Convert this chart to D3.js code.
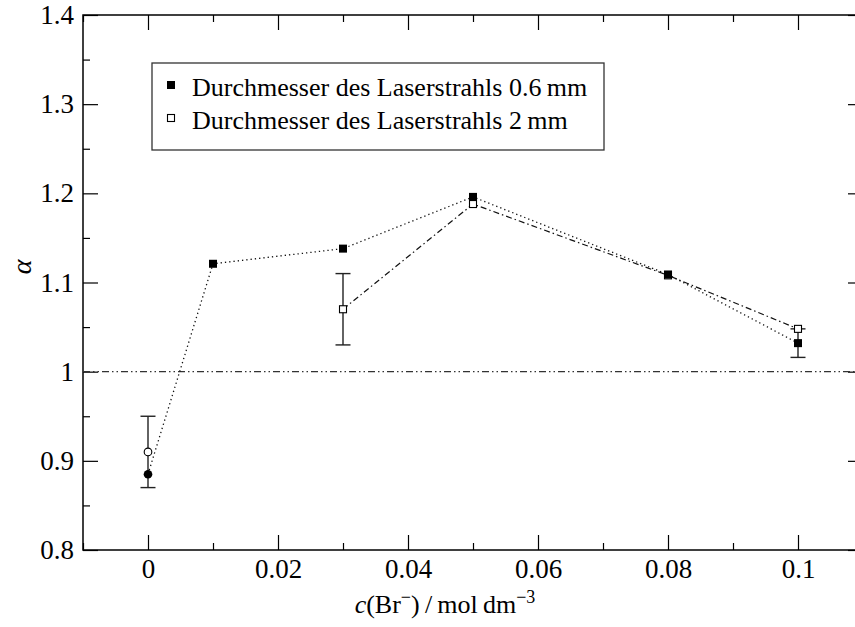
<!DOCTYPE html>
<html>
<head>
<meta charset="utf-8">
<script src="https://cdn.jsdelivr.net/npm/d3@7"></script>
<style>
  html, body { margin: 0; padding: 0; background: #fff; }
  svg { display: block; }
  svg text { font-family: "Liberation Serif", "Times New Roman", Times, Tinos, "Nimbus Roman", "Noto Serif", "DejaVu Serif", serif !important; fill: #000; }
</style>
</head>
<body>
<svg id="chart" width="855" height="627"></svg>
<script>
// Bromide concentration (mol dm^-3) and measured alpha values
const concSmallBeam = [0, 0.01, 0.03, 0.05, 0.08, 0.1];
const alphaSmallBeam = [0.885, 1.121, 1.138, 1.196, 1.109, 1.032];
const markerSmallBeam = ["circle", "square", "square", "square", "square", "square"];

const concLargeBeam = [0.03, 0.05, 0.08, 0.1];
const alphaLargeBeam = [1.07, 1.188, 1.108, 1.048];

// Separate point of the 2 mm beam at zero bromide (not joined to the line)
const concLargeZero = [0];
const alphaLargeZero = [0.91];

// Error bars: x, centre, half-width
const errX = [0, 0.03, 0.1];
const errY = [0.91, 1.07, 1.032];
const errHalf = [0.04, 0.04, 0.016];

const legendLabels = ["Durchmesser des Laserstrahls 0.6\u2009mm", "Durchmesser des Laserstrahls 2\u2009mm"];

const xTickValues = [0, 0.02, 0.04, 0.06, 0.08, 0.1];
const xTickLabels = ["0", "0.02", "0.04", "0.06", "0.08", "0.1"];
const xMinorValues = [-0.01, 0.01, 0.03, 0.05, 0.07, 0.09, 0.11];
const yTickValues = [0.8, 0.9, 1.0, 1.1, 1.2, 1.3, 1.4];
const yTickLabels = ["0.8", "0.9", "1", "1.1", "1.2", "1.3", "1.4"];
const yMinorValues = [0.85, 0.95, 1.05, 1.15, 1.25, 1.35];
const referenceLevel = 1.0;

const serif = "'Liberation Serif', 'Times New Roman', Times, Tinos, 'Nimbus Roman', 'Noto Serif', 'DejaVu Serif', serif";

const svg = d3.select("#chart");
const plotLeft = 83, plotRight = 863, plotTop = 15, plotBottom = 550;

const x = d3.scaleLinear().domain([-0.01, 0.11]).range([plotLeft, plotRight]);
const y = d3.scaleLinear().domain([0.8, 1.4]).range([plotBottom, plotTop]);

// Frame
svg.append("rect")
  .attr("x", plotLeft).attr("y", plotTop)
  .attr("width", plotRight - plotLeft).attr("height", plotBottom - plotTop)
  .attr("fill", "none").attr("stroke", "#000").attr("stroke-width", 1.5);

function styleAxis(g) {
  g.attr("font-family", serif);
  g.select(".domain").remove();
  g.selectAll(".tick line").attr("stroke", "#000").attr("stroke-width", 1.2);
  g.selectAll(".tick text").attr("font-size", 27).style("font-family", serif);
}

// Bottom axis with labels
svg.append("g").attr("transform", `translate(0,${plotBottom})`)
  .call(d3.axisBottom(x).tickValues(xTickValues)
    .tickFormat((d, i) => xTickLabels[i]).tickSize(-15).tickPadding(9))
  .call(styleAxis);
svg.append("g").attr("transform", `translate(0,${plotBottom})`)
  .call(d3.axisBottom(x).tickValues(xMinorValues).tickFormat("").tickSize(-7))
  .call(styleAxis);
// Top mirrored ticks
svg.append("g").attr("transform", `translate(0,${plotTop})`)
  .call(d3.axisTop(x).tickValues(xTickValues).tickFormat("").tickSize(-15))
  .call(styleAxis);
svg.append("g").attr("transform", `translate(0,${plotTop})`)
  .call(d3.axisTop(x).tickValues(xMinorValues).tickFormat("").tickSize(-7))
  .call(styleAxis);

// Left axis with labels
svg.append("g").attr("transform", `translate(${plotLeft},0)`)
  .call(d3.axisLeft(y).tickValues(yTickValues)
    .tickFormat((d, i) => yTickLabels[i]).tickSize(-15).tickPadding(9))
  .call(styleAxis);
svg.append("g").attr("transform", `translate(${plotLeft},0)`)
  .call(d3.axisLeft(y).tickValues(yMinorValues).tickFormat("").tickSize(-7))
  .call(styleAxis);
// Right mirrored ticks
svg.append("g").attr("transform", `translate(${plotRight},0)`)
  .call(d3.axisRight(y).tickValues(yTickValues).tickFormat("").tickSize(-15))
  .call(styleAxis);
svg.append("g").attr("transform", `translate(${plotRight},0)`)
  .call(d3.axisRight(y).tickValues(yMinorValues).tickFormat("").tickSize(-7))
  .call(styleAxis);

// Reference line at alpha = 1
svg.append("line")
  .attr("x1", plotLeft).attr("x2", plotRight)
  .attr("y1", y(referenceLevel)).attr("y2", y(referenceLevel))
  .attr("stroke", "#333").attr("stroke-width", 1.2)
  .attr("stroke-dasharray", "7,3,1.5,3,1.5,3");

const line = d3.line().x(d => x(d[0])).y(d => y(d[1]));

// 2 mm beam: dash-dot line
svg.append("path")
  .datum(concLargeBeam.map((c, i) => [c, alphaLargeBeam[i]]))
  .attr("d", line).attr("fill", "none")
  .attr("stroke", "#111").attr("stroke-width", 1.2)
  .attr("stroke-dasharray", "6,3,1.5,3");

// 0.6 mm beam: dotted line
svg.append("path")
  .datum(concSmallBeam.map((c, i) => [c, alphaSmallBeam[i]]))
  .attr("d", line).attr("fill", "none")
  .attr("stroke", "#111").attr("stroke-width", 1.3)
  .attr("stroke-dasharray", "1.3,3");

// Error bars
const capHalf = 7.5;
const eb = svg.append("g").attr("stroke", "#222").attr("stroke-width", 1.4);
errX.forEach((c, i) => {
  const cx = x(c), y0 = y(errY[i] - errHalf[i]), y1 = y(errY[i] + errHalf[i]);
  eb.append("line").attr("x1", cx).attr("x2", cx).attr("y1", y0).attr("y2", y1);
  eb.append("line").attr("x1", cx - capHalf).attr("x2", cx + capHalf).attr("y1", y0).attr("y2", y0);
  eb.append("line").attr("x1", cx - capHalf).attr("x2", cx + capHalf).attr("y1", y1).attr("y2", y1);
});

// Open markers (2 mm beam)
svg.append("g").selectAll("rect")
  .data(concLargeBeam.map((c, i) => [c, alphaLargeBeam[i]]))
  .join("rect")
  .attr("x", d => x(d[0]) - 3.5).attr("y", d => y(d[1]) - 3.5)
  .attr("width", 7).attr("height", 7)
  .attr("fill", "#fff").attr("stroke", "#000").attr("stroke-width", 1.1);
svg.append("g").selectAll("circle")
  .data(concLargeZero.map((c, i) => [c, alphaLargeZero[i]]))
  .join("circle")
  .attr("cx", d => x(d[0])).attr("cy", d => y(d[1])).attr("r", 3.8)
  .attr("fill", "#fff").attr("stroke", "#000").attr("stroke-width", 1.1);

// Filled markers (0.6 mm beam)
const filled = svg.append("g");
concSmallBeam.forEach((c, i) => {
  if (markerSmallBeam[i] === "circle") {
    filled.append("circle").attr("cx", x(c)).attr("cy", y(alphaSmallBeam[i])).attr("r", 4.3).attr("fill", "#000");
  } else {
    filled.append("rect").attr("x", x(c) - 4).attr("y", y(alphaSmallBeam[i]) - 4)
      .attr("width", 8).attr("height", 8).attr("fill", "#000");
  }
});

// Legend
const lg = svg.append("g").attr("font-family", serif);
lg.append("rect").attr("x", 152).attr("y", 63).attr("width", 452).attr("height", 87)
  .attr("fill", "#fff").attr("stroke", "#333").attr("stroke-width", 1.3);
lg.append("rect").attr("x", 167).attr("y", 81).attr("width", 8).attr("height", 8).attr("fill", "#000");
lg.append("rect").attr("x", 167.5).attr("y", 114.5).attr("width", 7).attr("height", 7)
  .attr("fill", "#fff").attr("stroke", "#000").attr("stroke-width", 1.1);
lg.selectAll("text.lbl").data(legendLabels).join("text")
  .attr("class", "lbl")
  .attr("x", 192).attr("y", (d, i) => 96 + i * 33)
  .attr("font-size", 26).style("font-family", serif).text(d => d);

// Axis titles
const xt = svg.append("text").attr("x", 445).attr("y", 613)
  .attr("text-anchor", "middle").attr("font-size", 26).style("font-family", serif);
xt.append("tspan").attr("font-style", "italic").text("c");
xt.append("tspan").text("(Br");
xt.append("tspan").attr("dy", -10).attr("font-size", 18).text("\u2212");
xt.append("tspan").attr("dy", 10).text(")\u2009/\u2009mol\u2009dm");
xt.append("tspan").attr("dy", -10).attr("font-size", 18).text("\u22123");

svg.append("text")
  .attr("transform", "translate(31,267) rotate(-90)")
  .attr("text-anchor", "middle").attr("font-size", 28).attr("font-style", "italic")
  .style("font-family", serif)
  .text("\u03b1");
</script>
</body>
</html>
